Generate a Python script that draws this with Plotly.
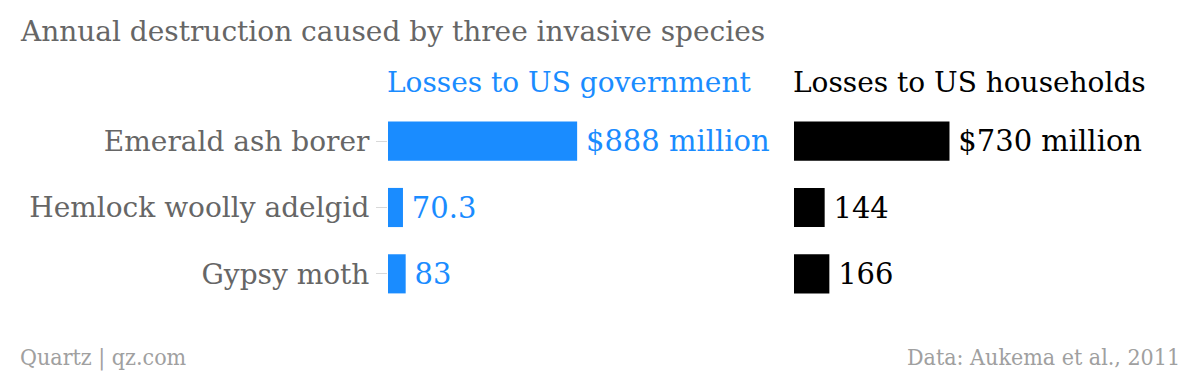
import plotly.graph_objects as go

categories = ["Emerald ash borer", "Hemlock woolly adelgid", "Gypsy moth"]
gov_values = [888, 70.3, 83]
gov_labels = ["$888 million", "70.3", "83"]
house_values = [730, 144, 166]
house_labels = ["$730 million", "144", "166"]

title = "Annual destruction caused by three invasive species"
gov_header = "Losses to US government"
house_header = "Losses to US households"
footer_left = "Quartz | qz.com"
footer_right = "Data: Aukema et al., 2011"

BLUE = "#1a8cff"
GREY = "#666666"
FONT = "DejaVu Serif"
FOOT_FONT = "DejaVu Serif Condensed"

W, H = 1200, 374
T, B = 108, 67
px_per_unit = 0.2130
left_start, left_end = 388, 780
right_start, right_end = 794, 1200


def py(ypx):
    # convert pixel y (from top of figure) to paper coordinate
    return (H - B - ypx) / (H - T - B)


def px(xpx):
    return xpx / W


fig = go.Figure()
fig.add_trace(go.Bar(
    y=categories, x=gov_values, orientation="h",
    marker=dict(color=BLUE, line=dict(width=0)),
    text=["\u2009" + t for t in gov_labels], textposition="outside",
    textfont=dict(color=BLUE, size=29, family=FONT),
    cliponaxis=False, constraintext="none",
    xaxis="x", yaxis="y", hoverinfo="skip",
))
fig.add_trace(go.Bar(
    y=categories, x=house_values, orientation="h",
    marker=dict(color="#000000", line=dict(width=0)),
    text=["\u2009" + t for t in house_labels], textposition="outside",
    textfont=dict(color="#000000", size=29, family=FONT),
    cliponaxis=False, constraintext="none",
    xaxis="x2", yaxis="y2", hoverinfo="skip",
))

fig.update_layout(
    width=W, height=H,
    margin=dict(l=0, r=0, t=T, b=B, pad=0),
    paper_bgcolor="white", plot_bgcolor="white",
    showlegend=False, bargap=0.41,
    font=dict(family=FONT, color=GREY),
    xaxis=dict(domain=[px(left_start), px(left_end)],
               range=[0, (left_end - left_start) / px_per_unit],
               visible=False, fixedrange=True),
    xaxis2=dict(domain=[px(right_start), px(right_end)],
                range=[0, (right_end - right_start) / px_per_unit],
                visible=False, fixedrange=True),
    yaxis=dict(anchor="x", autorange="reversed", showgrid=False, zeroline=False,
               showline=False, ticks="outside", ticklen=11, tickcolor="#d9d9d9",
               tickwidth=1, ticklabelstandoff=1,
               tickfont=dict(size=28, color=GREY, family=FONT)),
    yaxis2=dict(anchor="x2", matches="y", autorange="reversed", showgrid=False,
                zeroline=False, showline=False, showticklabels=False, ticks=""),
    annotations=[
        dict(text=title, x=px(18), y=py(32), xref="paper", yref="paper",
             xanchor="left", yanchor="middle", showarrow=False,
             font=dict(size=28, color=GREY, family=FONT)),
        dict(text=gov_header, x=px(left_start - 3), y=py(82), xref="paper", yref="paper",
             xanchor="left", yanchor="middle", showarrow=False,
             font=dict(size=28, color=BLUE, family=FONT)),
        dict(text=house_header, x=px(right_start - 3), y=py(82), xref="paper", yref="paper",
             xanchor="left", yanchor="middle", showarrow=False,
             font=dict(size=28, color="#000000", family=FONT)),
        dict(text=footer_left, x=px(18), y=py(357), xref="paper", yref="paper",
             xanchor="left", yanchor="middle", showarrow=False,
             font=dict(size=23, color="#a0a0a0", family=FOOT_FONT)),
        dict(text=footer_right, x=px(1182), y=py(357), xref="paper", yref="paper",
             xanchor="right", yanchor="middle", showarrow=False,
             font=dict(size=23, color="#a0a0a0", family=FOOT_FONT)),
    ],
)

fig.write_html(
    "out.html",
    config=dict(displayModeBar=False),
    post_script="document.body.style.margin='0';document.body.style.overflow='hidden';",
)
